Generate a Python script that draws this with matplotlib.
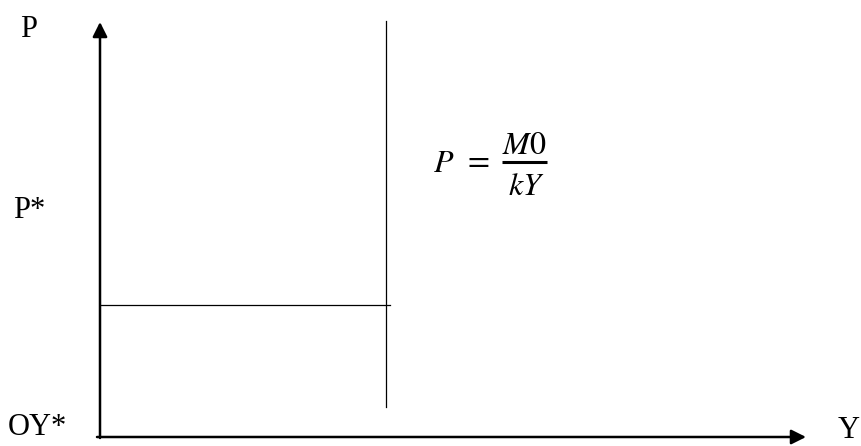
import matplotlib
matplotlib.use("Agg")
import matplotlib.pyplot as plt

# diagram coordinates (origin at the corner of the axes)
y_star = 286          # vertical line position
p_star = 132          # horizontal line level
vline_range = [30, 416]
hline_range = [0, 290]
y_axis_top = 415
x_axis_end = 706

axis_labels = ["P", "P*", "OY*", "Y"]
label_pos = [(-80, 400), (-87, 219), (-92, 2), (738, -1)]

# formula P = M0 / kY, drawn piece by piece
formula_lhs = [r"$P$", r"$=$"]
lhs_pos = [(333, 265), (363, 268)]
numerator, denominator = r"$M0$", r"$kY$"
frac_x = [402, 447]
frac_y = 275

plt.rcParams["mathtext.fontset"] = "stix"

fig = plt.figure(figsize=(8.62, 4.46), dpi=100)
ax = fig.add_axes([0, 0, 1, 1])
ax.set_xlim(-100, 762)
ax.set_ylim(-9, 437)
ax.axis("off")

# axes with arrows
ax.annotate("", xy=(0, y_axis_top), xytext=(0, -1),
            arrowprops=dict(arrowstyle="-|>", lw=1.8, color="black",
                            mutation_scale=22, shrinkA=0, shrinkB=0))
ax.annotate("", xy=(x_axis_end, 0), xytext=(-3, 0),
            arrowprops=dict(arrowstyle="-|>", lw=1.8, color="black",
                            mutation_scale=22, shrinkA=0, shrinkB=0))

# curves
ax.plot([y_star, y_star], vline_range, color="black", lw=0.9)
ax.plot(hline_range, [p_star, p_star], color="black", lw=0.9)

for txt, (x, y) in zip(axis_labels, label_pos):
    ax.text(x, y, txt, fontsize=22, family="Liberation Serif",
            ha="left", va="baseline")

for txt, (x, y) in zip(formula_lhs, lhs_pos):
    ax.text(x, y, txt, fontsize=23, ha="left", va="baseline")
ax.plot(frac_x, [frac_y, frac_y], color="black", lw=2.2, solid_capstyle="butt")
mid = sum(frac_x) / 2
ax.text(mid, frac_y + 8, numerator, fontsize=23, ha="center", va="baseline")
ax.text(mid + 2, frac_y - 33, denominator, fontsize=23, ha="center", va="baseline")

fig.savefig("out.png", dpi=100)
